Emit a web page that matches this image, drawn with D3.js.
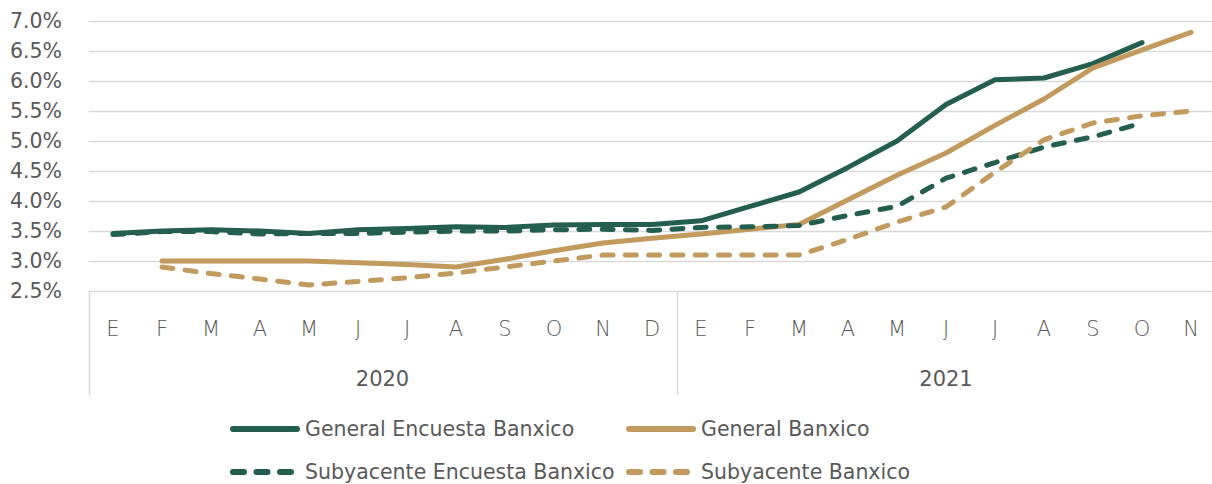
<!DOCTYPE html>
<html><head><meta charset="utf-8">
<script src="https://cdn.jsdelivr.net/npm/d3@7"></script>
<style>
html,body{margin:0;padding:0;background:#fff;}
svg text{font-family:"DejaVu Sans",sans-serif;fill:#595959;}
</style></head>
<body><svg id="c" width="1212" height="484"></svg>
<script>
const months = ["E","F","M","A","M","J","J","A","S","O","N","D","E","F","M","A","M","J","J","A","S","O","N"];
const years = ["2020","2021"];
const yearCounts = [12, 11];
const yTicks = [2.5,3.0,3.5,4.0,4.5,5.0,5.5,6.0,6.5,7.0];
const generalEncuesta = [3.46,3.50,3.52,3.50,3.46,3.52,3.54,3.57,3.56,3.60,3.61,3.61,3.67,3.91,4.15,4.56,5.00,5.61,6.02,6.05,6.29,6.64,null];
const generalBanxico = [null,3.00,3.00,3.00,3.00,2.97,2.94,2.90,3.03,3.17,3.30,3.38,3.45,3.53,3.61,4.02,4.43,4.80,5.26,5.70,6.22,6.52,6.81];
const subyEncuesta = [3.44,3.49,3.49,3.45,3.46,3.46,3.48,3.50,3.50,3.52,3.53,3.51,3.56,3.57,3.59,3.76,3.91,4.38,4.64,4.90,5.07,5.30,null];
const subyBanxico = [null,2.90,2.79,2.70,2.60,2.66,2.72,2.80,2.90,3.00,3.10,3.10,3.10,3.10,3.10,3.36,3.65,3.90,4.48,5.02,5.30,5.42,5.50];
const seriesNames = ["General Encuesta Banxico","General Banxico","Subyacente Encuesta Banxico","Subyacente Banxico"];

(function(){
const green = "#235e4e", tan = "#c29a5d";
const series = [
  {name:seriesNames[0], values:generalEncuesta, color:green, dash:null},
  {name:seriesNames[1], values:generalBanxico, color:tan, dash:null},
  {name:seriesNames[2], values:subyEncuesta, color:green, dash:"11,12.3"},
  {name:seriesNames[3], values:subyBanxico, color:tan, dash:"11,12.3"}
];

const svg = d3.select("#c");
const mLeft = 88.5, mRight = 88.5 + 49*23, mTop = 21, mBottom = 291;
const idx = d3.range(months.length);
const x = d3.scaleBand().domain(idx).range([mLeft, mRight]).padding(0);
const y = d3.scaleLinear().domain([2.5, 7.0]).range([mBottom, mTop]);

// gridlines
svg.append("g").selectAll("line").data(yTicks).join("line")
  .attr("x1", mLeft).attr("x2", 1212)
  .attr("y1", d => Math.round(y(d))+0.5).attr("y2", d => Math.round(y(d))+0.5)
  .attr("stroke", "#d9d9d9").attr("stroke-width", 1.5);

// y axis labels
const yAxis = d3.axisLeft(y).tickValues(yTicks).tickFormat(d => d.toFixed(1) + "%").tickSize(0).tickPadding(0);
const gy = svg.append("g").attr("transform", `translate(62,0)`).call(yAxis);
gy.select(".domain").remove();
gy.selectAll("text").style("font-size","20.5px").style("fill","#595959").attr("font-family",null);

// x axis months
const xAxis = d3.axisBottom(x).tickFormat(i => months[i]).tickSize(0).tickPadding(0);
const gx = svg.append("g").attr("transform", `translate(0,${mBottom})`).call(xAxis);
gx.select(".domain").remove();
gx.selectAll("text").attr("dy", null).attr("y", 45).style("font-size","21px").style("font-weight","200").style("fill","#595959").attr("font-family",null);

// year dividers & labels
let start = 0;
const bounds = [];
yearCounts.forEach((c, i) => {
  const x0 = x(start), x1 = x(start) + c * x.bandwidth();
  bounds.push(x0);
  svg.append("text").attr("x", (x0 + x1) / 2).attr("y", 386)
    .attr("text-anchor", "middle").style("font-size","21px").text(years[i]);
  start += c;
});
svg.append("g").selectAll("line").data(bounds).join("line")
  .attr("x1", d => Math.round(d)+0.5).attr("x2", d => Math.round(d)+0.5)
  .attr("y1", mBottom).attr("y2", 395)
  .attr("stroke", "#d9d9d9").attr("stroke-width", 1.5);

// lines
const line = d3.line().defined(d => d != null)
  .x((d, i) => x(i) + x.bandwidth()/2).y(d => y(d));
series.forEach(s => {
  svg.append("path").datum(s.values).attr("d", line)
    .attr("fill","none").attr("stroke", s.color).attr("stroke-width", 5)
    .attr("stroke-linejoin","round").attr("stroke-linecap","round")
    .attr("stroke-dasharray", s.dash);
});

// legend
const legendPos = [[230,429],[626,429],[230,472],[626,472]];
series.forEach((s, i) => {
  const [lx, ly] = legendPos[i];
  svg.append("line").attr("x1", lx+3).attr("x2", lx+67).attr("y1", ly).attr("y2", ly)
    .attr("stroke", s.color).attr("stroke-width", 6).attr("stroke-linecap","round")
    .attr("stroke-dasharray", s.dash ? "11,12.5" : null);
  svg.append("text").attr("x", lx + 75).attr("y", ly).attr("dy","0.36em")
    .style("font-size","20.5px").text(s.name);
});
})();
</script></body></html>
